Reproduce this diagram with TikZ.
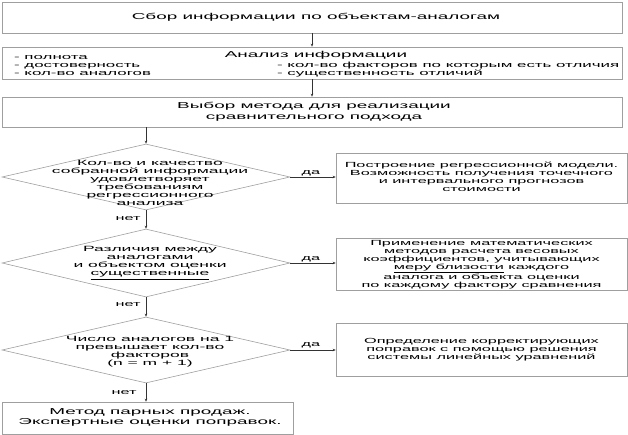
\documentclass[tikz,border=0pt]{standalone}
\usepackage{fontspec}
\setmainfont{Liberation Sans}[FakeStretch=2.2]
\newfontfamily\headfont{Liberation Sans}[FakeStretch=2.2]
\newfontfamily\diafont{Liberation Sans}[FakeStretch=2.3]
\newfontfamily\listfont{Liberation Sans}[FakeStretch=2.25]
\usetikzlibrary{shapes.geometric,arrows.meta}
\begin{document}
\begin{tikzpicture}[x=1pt,y=-1pt,
  every node/.style={inner sep=0pt,font=\fontsize{7.4}{7.9}\selectfont},
  box/.style={draw=gray!75,line width=0.6pt,minimum width=#1},
  dia/.style={draw=gray!75,line width=0.6pt,shape=diamond,minimum width=288pt},
  txt/.style={align=center},
  head/.style={align=center,font=\headfont\fontsize{8.6}{10.5}\selectfont},
  dtxt/.style={align=center,font=\diafont\fontsize{7.6}{8}\selectfont},
  ltxt/.style={align=left,anchor=west,font=\listfont\fontsize{7.5}{8}\selectfont},
  arr/.style={draw=black!80,line width=0.5pt,-{Stealth[length=3pt,width=2.5pt]}},
  lbl/.style={font=\fontsize{7.4}{7.9}\selectfont}]
\useasboundingbox (0,0) rectangle (628,435);
% main boxes
\node[box=620pt,minimum height=31pt] (b1) at (312,17.5) {};
\node[box=620pt,minimum height=32pt] (b2) at (312,63) {};
\node[box=620pt,minimum height=30pt] (b3) at (312,112) {};
\node[head] at (316,17) {Сбор информации по объектам-аналогам};
\node[head] at (316,55) {Анализ информации};
\node[ltxt] at (14,66) {- полнота\\- достоверность\\- кол-во аналогов};
\node[ltxt] at (277,70) {- кол-во факторов по которым есть отличия\\- существенность отличий};
\node[head] at (314,111.5) {Выбор метода для реализации\\сравнительного подхода};
% diamonds
\node[dia,minimum height=66pt] (d1) at (146,177) {};
\node[dia,minimum height=68pt] (d2) at (146,263) {};
\node[dia,minimum height=66pt] (d3) at (146,350) {};
\node[dtxt] (t1) at (150,183) {Кол-во и качество\\собранной информации\\удовлетворяет\\требованиям\\регрессионного\\анализа};
\node[dtxt] (t2) at (150,263) {Различия между\\аналогами\\и объектом оценки\\\underline{существенные}};
\node[dtxt] (t3) at (150,352) {Число аналогов на 1\\превышает кол-во\\факторов\\(n = m + 1)};
% right boxes
\node[box=291pt,minimum height=50pt] (bA) at (481.5,178) {};
\node[box=291pt,minimum height=52pt] (bB) at (481.5,264) {};
\node[box=291pt,minimum height=53pt] (bC) at (481.5,349.5) {};
\node[txt] at (481.5,177) {Построение регрессионной модели.\\Возможность получения точечного\\и интервального прогнозов\\стоимости};
\node[txt] at (481.5,265) {Применение математических\\методов расчета весовых\\коэффициентов, учитывающих\\\underline{меру близости} каждого\\аналога и объекта оценки\\по каждому фактору сравнения};
\node[txt] at (481.5,350) {Определение корректирующих\\поправок с помощью решения\\системы линейных уравнений};
% bottom box
\node[box=291pt,minimum height=32pt] (bD) at (147.5,418) {};
\node[head,font=\headfont\fontsize{8.6}{9.2}\selectfont] at (150,417.5) {Метод парных продаж.\\Экспертные оценки поправок.};
% connectors
\draw[arr] (b1.south) -- (b2.north);
\draw[arr] (b2.south) -- (b3.north);
\draw[arr] (b3.south -| d1.north) -- (d1.north);
\draw[arr] (d1.south) -- (d2.north);
\draw[arr] (d2.south) -- (d3.north);
\draw[arr] (d3.south) -- (d3.south |- bD.north);
\draw[arr] (d1.east) -- (d1.east -| bA.west);
\draw[arr] (d2.east) -- (d2.east -| bB.west);
\draw[arr] (d3.east) -- (d3.east -| bC.west);
% labels
\node[lbl] at (311,173) {да};
\node[lbl] at (311,259) {да};
\node[lbl] at (311,345) {да};
\node[lbl] at (128,219) {нет};
\node[lbl] at (128,305) {нет};
\node[lbl] at (124,393) {нет};
\end{tikzpicture}
\end{document}
